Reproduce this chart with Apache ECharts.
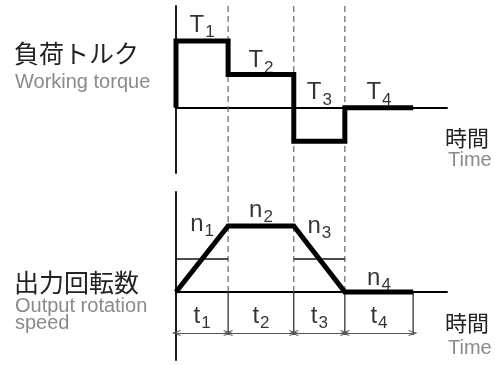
<!DOCTYPE html>
<html>
<head>
<meta charset="utf-8">
<script src="https://cdn.jsdelivr.net/npm/echarts@6/dist/echarts.min.js"></script>
<style>
  html, body { margin: 0; padding: 0; background: #fff; }
  #main { width: 495px; height: 365px; }
</style>
</head>
<body>
<div id="main"></div>
<script>
  // 区間の境界 (時間軸, 任意単位)
  const breaks = [0, 10, 22.6, 32.4, 45.5];
  // 負荷トルク (区間ごと)
  const torque = [2, 1, -1, 0];
  // 出力回転数 (境界ごと)
  const speed = [0, 2, 2, 0, 0];
  const torqueNames = ['T1', 'T2', 'T3', 'T4'];
  const speedNames = ['n1', 'n2', 'n3', 'n4'];
  const timeNames = ['t1', 't2', 't3', 't4'];

  const FONT_JP = '"Noto Sans CJK JP", sans-serif';
  const FONT_EN = '"Liberation Sans", Arial, sans-serif';
  const X_MAX = 52;
  const DIM_Y = -1.24;
  const TICK_Y = -1.3;

  // ラベル位置の微調整 (px)
  const tDist = [4, 2, 3, 3];
  const nDist = [-10, 4, -12, 2];

  const mid = (i) => (breaks[i] + breaks[i + 1]) / 2;

  // トルクの階段
  const torqueLine = [[breaks[0], 0]];
  torque.forEach((v, i) => {
    torqueLine.push([breaks[i], v]);
    torqueLine.push([breaks[i + 1], v]);
  });
  const speedLine = breaks.map((b, i) => [b, speed[i]]);

  const rich = {
    m: { fontSize: 24, lineHeight: 24, verticalAlign: 'top', fontFamily: FONT_EN, color: '#000' },
    s: { fontSize: 17, lineHeight: 17, verticalAlign: 'top', fontFamily: FONT_EN, color: '#000', padding: [11, 0, 0, 1] }
  };
  const fmt = (p) => '{m|' + p.name[0] + '}{s|' + p.name.slice(1) + '}';

  const labelSeries = (xi, yi, items, pos) => ({
    type: 'scatter',
    xAxisIndex: xi,
    yAxisIndex: yi,
    symbolSize: 0,
    silent: true,
    z: 5,
    label: { show: true, position: pos, formatter: fmt, rich: rich },
    data: items
  });

  const series = [];

  // 破線 (全体)
  breaks.slice(1, 4).forEach((b) => {
    series.push({
      type: 'line', xAxisIndex: 2, yAxisIndex: 2, symbol: 'none', silent: true, z: 1,
      lineStyle: { color: '#666', width: 1.2, type: [6, 4] },
      data: [[b, 0], [b, 1]]
    });
  });

  // トルク
  series.push({
    type: 'line', xAxisIndex: 0, yAxisIndex: 0, symbol: 'none', silent: true, z: 3,
    lineStyle: { color: '#000', width: 5, join: 'miter', cap: 'butt' },
    data: torqueLine
  });

  // 回転数
  series.push({
    type: 'line', xAxisIndex: 1, yAxisIndex: 1, symbol: 'none', silent: true, z: 3,
    lineStyle: { color: '#000', width: 5, join: 'miter', cap: 'butt' },
    data: speedLine
  });

  // 加減速区間の中間線
  for (let i = 0; i < breaks.length - 1; i++) {
    if (speed[i] !== speed[i + 1]) {
      const m = (speed[i] + speed[i + 1]) / 2;
      series.push({
        type: 'line', xAxisIndex: 1, yAxisIndex: 1, symbol: 'none', silent: true, z: 2,
        lineStyle: { color: '#111', width: 1.3 },
        data: [[breaks[i], m], [breaks[i + 1], m]]
      });
    }
  }

  // 寸法線の縦線
  breaks.slice(1).forEach((b) => {
    series.push({
      type: 'line', xAxisIndex: 1, yAxisIndex: 1, symbol: 'none', silent: true, z: 2,
      lineStyle: { color: '#222', width: 1.2 },
      data: [[b, 0], [b, TICK_Y]]
    });
  });

  // 寸法線 (矢印)
  const arrow = 'path://M0,9L4,0L8,9L6.6,9L4,3L1.4,9Z';
  series.push({
    type: 'line', xAxisIndex: 1, yAxisIndex: 1, symbol: 'none', silent: true, data: [],
    markLine: {
      silent: true,
      animation: false,
      symbol: [arrow, arrow],
      symbolSize: [6, 9],
      label: { show: false },
      emphasis: { disabled: true },
      lineStyle: { color: '#555', width: 1, type: 'solid' },
      data: breaks.slice(0, 4).map((b, i) => [
        { coord: [b, DIM_Y] },
        { coord: [breaks[i + 1], DIM_Y] }
      ])
    }
  });

  // ラベル
  series.push(labelSeries(0, 0, torqueNames.map((nm, i) => ({
    name: nm, value: [mid(i), Math.max(torque[i], 0)], label: { distance: tDist[i] }
  })), 'top'));
  series.push(labelSeries(1, 1, speedNames.map((nm, i) => ({
    name: nm, value: [mid(i), Math.max(speed[i], speed[i + 1])], label: { distance: nDist[i] }
  })), 'top'));
  series.push(labelSeries(1, 1, timeNames.map((nm, i) => ({
    name: nm, value: [mid(i), 0], label: { distance: 12 }
  })), 'bottom'));

  const axisLine = { show: true, onZero: true, lineStyle: { color: '#000', width: 1.8 } };
  const hidden = { axisTick: { show: false }, axisLabel: { show: false }, splitLine: { show: false } };

  const chart = echarts.init(document.getElementById('main'), null, { renderer: 'canvas' });
  chart.setOption({
    animation: false,
    backgroundColor: '#fff',
    grid: [
      { left: 176, width: 271, top: 6, height: 167 },
      { left: 176, width: 271, top: 192, height: 168 },
      { left: 176, width: 271, top: 5, height: 287 }
    ],
    xAxis: [
      Object.assign({ type: 'value', gridIndex: 0, min: 0, max: X_MAX, axisLine: axisLine }, hidden),
      Object.assign({ type: 'value', gridIndex: 1, min: 0, max: X_MAX, axisLine: axisLine }, hidden),
      Object.assign({ type: 'value', gridIndex: 2, min: 0, max: X_MAX, axisLine: { show: false } }, hidden)
    ],
    yAxis: [
      Object.assign({ type: 'value', gridIndex: 0, min: -1.95, max: 3.05, axisLine: axisLine }, hidden),
      Object.assign({ type: 'value', gridIndex: 1, min: -2.06, max: 3.03, axisLine: axisLine }, hidden),
      Object.assign({ type: 'value', gridIndex: 2, min: 0, max: 1, axisLine: { show: false } }, hidden)
    ],
    graphic: [
      { type: 'text', x: 14, y: 53, style: { text: '負荷トルク', fontSize: 25, fontFamily: FONT_JP, fill: '#222', verticalAlign: 'middle' } },
      { type: 'text', x: 15, y: 82, style: { text: 'Working torque', fontSize: 20, fontFamily: FONT_EN, fill: '#8a8a8a', verticalAlign: 'middle' } },
      { type: 'text', x: 14, y: 282, style: { text: '出力回転数', fontSize: 25, fontFamily: FONT_JP, fill: '#222', verticalAlign: 'middle' } },
      { type: 'text', x: 15, y: 306, style: { text: 'Output rotation', fontSize: 20, fontFamily: FONT_EN, fill: '#8a8a8a', verticalAlign: 'middle' } },
      { type: 'text', x: 15, y: 323, style: { text: 'speed', fontSize: 20, fontFamily: FONT_EN, fill: '#8a8a8a', verticalAlign: 'middle' } },
      { type: 'text', x: 445, y: 138, style: { text: '時間', fontSize: 22, fontFamily: FONT_JP, fill: '#222', verticalAlign: 'middle' } },
      { type: 'text', x: 448, y: 160, style: { text: 'Time', fontSize: 20, fontFamily: FONT_EN, fill: '#8a8a8a', verticalAlign: 'middle' } },
      { type: 'text', x: 445, y: 323, style: { text: '時間', fontSize: 22, fontFamily: FONT_JP, fill: '#222', verticalAlign: 'middle' } },
      { type: 'text', x: 448, y: 348, style: { text: 'Time', fontSize: 20, fontFamily: FONT_EN, fill: '#8a8a8a', verticalAlign: 'middle' } }
    ],
    series: series
  });
</script>
</body>
</html>
